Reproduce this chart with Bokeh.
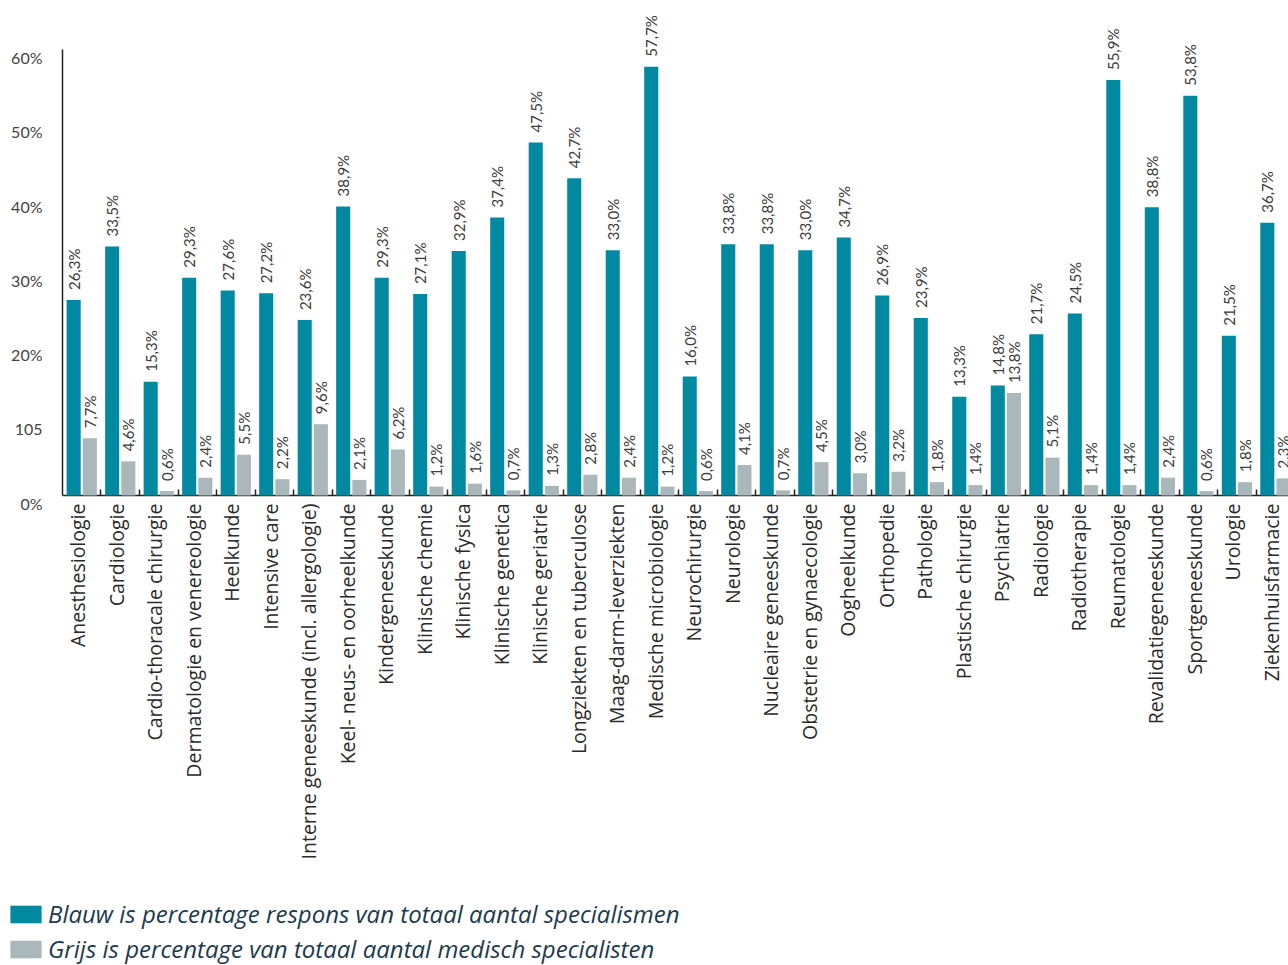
import math
from bokeh.plotting import figure
from bokeh.models import (ColumnDataSource, Range1d, FixedTicker, Legend, LegendItem, Grid)
from bokeh.core.properties import value
from bokeh.transform import dodge
from bokeh.embed import file_html
from bokeh.resources import INLINE

categories = [
    "Anesthesiologie", "Cardiologie", "Cardio-thoracale chirurgie",
    "Dermatologie en venereologie", "Heelkunde", "Intensive care",
    "Interne geneeskunde (incl. allergologie)", "Keel- neus- en oorheelkunde",
    "Kindergeneeskunde", "Klinische chemie", "Klinische fysica",
    "Klinische genetica", "Klinische geriatrie", "Longziekten en tuberculose",
    "Maag-darm-leverziekten", "Medische microbiologie", "Neurochirurgie",
    "Neurologie", "Nucleaire geneeskunde", "Obstetrie en gynaecologie",
    "Oogheelkunde", "Orthopedie", "Pathologie", "Plastische chirurgie",
    "Psychiatrie", "Radiologie", "Radiotherapie", "Reumatologie",
    "Revalidatiegeneeskunde", "Sportgeneeskunde", "Urologie", "Ziekenhuisfarmacie",
]
respons = [26.3, 33.5, 15.3, 29.3, 27.6, 27.2, 23.6, 38.9, 29.3, 27.1, 32.9,
           37.4, 47.5, 42.7, 33.0, 57.7, 16.0, 33.8, 33.8, 33.0, 34.7, 26.9,
           23.9, 13.3, 14.8, 21.7, 24.5, 55.9, 38.8, 53.8, 21.5, 36.7]
specialisten = [7.7, 4.6, 0.6, 2.4, 5.5, 2.2, 9.6, 2.1, 6.2, 1.2, 1.6, 0.7,
                1.3, 2.8, 2.4, 1.2, 0.6, 4.1, 0.7, 4.5, 3.0, 3.2, 1.8, 1.4,
                13.8, 5.1, 1.4, 1.4, 2.4, 0.6, 1.8, 2.3]
y_ticks = [0, 10, 20, 30, 40, 50, 60]
y_tick_labels = ["0%", "105", "20%", "30%", "40%", "50%", "60%"]
legend_labels = ["Blauw is percentage respons van totaal aantal specialismen",
                 "Grijs is percentage van totaal aantal medisch specialisten"]

BLUE = "#0089A1"
GREY = "#AAB8BC"
LINE = "#222222"
FONT = "Lato"

# view window (data units): the plot area fills the whole canvas so that the
# axis texts and the legend below can sit anywhere inside it
X_LO, X_HI = -1.61, 31.84
Y_LO, Y_HI = -63.23, 66.6
Y_MAX_AXIS = 60
TICK_LEN = 0.8


def fmt(v):
    return f"{v:.1f}".replace(".", ",") + "%"


n = len(categories)
centers = [i + 0.5 for i in range(n)]
source = ColumnDataSource(dict(
    x=centers, cat=categories, respons=respons, specialisten=specialisten,
    rlab=[fmt(v) for v in respons], slab=[fmt(v) for v in specialisten],
    base=[0] * n,
))
ysource = ColumnDataSource(dict(y=y_ticks, lab=y_tick_labels, x=[0] * len(y_ticks)))

p = figure(width=1288, height=965, output_backend="svg", toolbar_location=None,
           x_range=Range1d(X_LO, X_HI), y_range=Range1d(Y_LO, Y_HI),
           x_axis_location=None, y_axis_location=None, min_border=0,
           outline_line_color=None, background_fill_color="white")
p.grid.visible = False

r_blue = p.vbar(x=dodge("x", -0.21, range=p.x_range), top="respons", width=0.365,
                source=source, color=BLUE, line_color=None)
r_grey = p.vbar(x=dodge("x", 0.21, range=p.x_range), top="specialisten", width=0.365,
                source=source, color=GREY, line_color=None)

# value labels
for col, lab, off in (("respons", "rlab", -0.21), ("specialisten", "slab", 0.21)):
    p.text(x=dodge("x", off, range=p.x_range), y=col, text=lab, source=source,
           angle=math.pi / 2, text_align="left", text_baseline="middle",
           y_offset=-10, text_font=value(FONT), text_font_size="15px",
           text_color="#3c3c3c")

# axis lines and inner boundary ticks as bounded grid lines
p.add_layout(Grid(dimension=0, ticker=FixedTicker(ticks=list(range(1, n + 1))),
                  cross_bounds=(0, TICK_LEN), grid_line_color=LINE, grid_line_width=1.5))
p.add_layout(Grid(dimension=0, ticker=FixedTicker(ticks=[0]),
                  cross_bounds=(0, Y_MAX_AXIS), grid_line_color=LINE, grid_line_width=1.5))
p.add_layout(Grid(dimension=1, ticker=FixedTicker(ticks=[0]),
                  cross_bounds=(0, X_HI), grid_line_color=LINE, grid_line_width=1.5))

# y tick labels (sit a little below their value, as in the original)
p.text(x="x", y="y", text="lab", source=ysource, x_offset=-20, y_offset=8,
       text_align="right", text_baseline="middle", text_font=value(FONT),
       text_font_size="16px", text_color="#444444")

# category labels, vertical, hanging below the baseline
p.text(x="x", y="base", text="cat", source=source, angle=math.pi / 2,
       x_offset=-4, y_offset=8, text_align="right", text_baseline="middle",
       text_font=value("Open Sans"), text_font_size="19.5px", text_color="#2a2a2a")

legend = Legend(items=[LegendItem(label=legend_labels[0], renderers=[r_blue]),
                       LegendItem(label=legend_labels[1], renderers=[r_grey])],
                location=(6, 0), orientation="vertical",
                glyph_width=39, glyph_height=22, label_standoff=3,
                label_text_font="Open Sans", label_text_font_style="italic",
                label_text_font_size="24px", label_text_color="#1c3a4e",
                label_height=26, spacing=2, padding=0, margin=0,
                border_line_color=None, background_fill_alpha=0)
p.add_layout(legend, "center")

open("out.html", "w").write(file_html(p, INLINE))
